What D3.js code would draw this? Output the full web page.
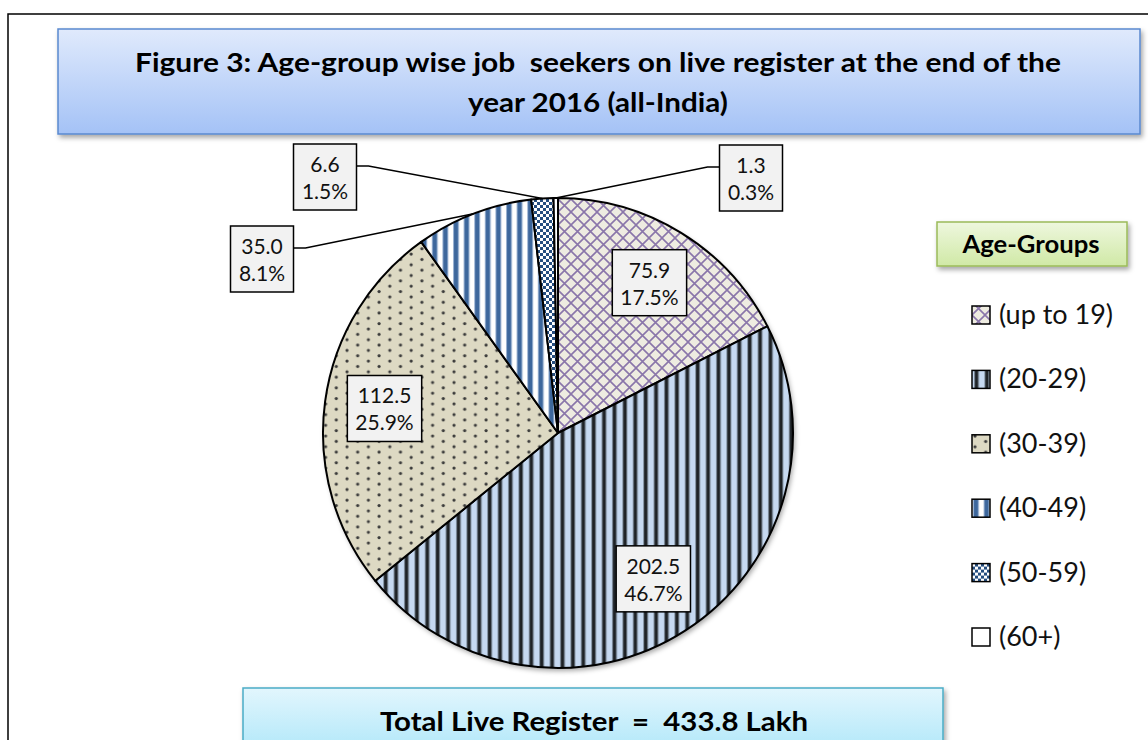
<!DOCTYPE html>
<html>
<head>
<meta charset="utf-8">
<script src="https://cdn.jsdelivr.net/npm/d3@7"></script>
<style>
  body { margin: 0; background: #fff; }
  svg { display: block; font-family: Lato, "Open Sans", sans-serif; }
</style>
</head>
<body>
<svg width="1148" height="740"></svg>
<script>
// Age-group wise job seekers on live register, end of 2016 (lakh)
const groups = ["(up to 19)", "(20-29)", "(30-39)", "(40-49)", "(50-59)", "(60+)"];
const values = [75.9, 202.5, 112.5, 35.0, 6.6, 1.3];
const shares = ["17.5%", "46.7%", "25.9%", "8.1%", "1.5%", "0.3%"];
const total = 433.8;

var svg = d3.select("svg"),
    cx = 558, cy = 433, radius = 235;

var defs = svg.append("defs");

// drop shadow used by boxes and the pie
var shadow = defs.append("filter").attr("id", "shadow")
    .attr("x", "-10%").attr("y", "-10%").attr("width", "130%").attr("height", "130%");
shadow.append("feDropShadow")
    .attr("dx", 2).attr("dy", 3).attr("stdDeviation", 2.5)
    .attr("flood-color", "#000").attr("flood-opacity", 0.35);

function gradient(id, top, bottom) {
    var g = defs.append("linearGradient").attr("id", id)
        .attr("x1", 0).attr("y1", 0).attr("x2", 0).attr("y2", 1);
    g.append("stop").attr("offset", "0%").attr("stop-color", top);
    g.append("stop").attr("offset", "100%").attr("stop-color", bottom);
}
gradient("gTitle", "#e0eafc", "#a4c2f6");
gradient("gLegend", "#eef7de", "#d0e9a6");
gradient("gTotal", "#e2f6fd", "#ace6f9");

// fill patterns, one per age group
function pattern(id, w, h) {
    return defs.append("pattern").attr("id", id)
        .attr("patternUnits", "userSpaceOnUse")
        .attr("width", w).attr("height", h);
}

// (up to 19): purple diamond cross-hatch on beige
var p0 = pattern("pat0", 13, 13);
p0.append("rect").attr("width", 13).attr("height", 13).attr("fill", "#eeece1");
p0.append("path").attr("d", "M0,0L13,13M13,0L0,13")
    .attr("stroke", "#8a76aa").attr("stroke-width", 1.6);

// (20-29): black vertical lines on light blue
var p1 = pattern("pat1", 10.4, 10);
p1.append("rect").attr("width", 10.4).attr("height", 10).attr("fill", "#c6d9f1");
p1.append("rect").attr("x", 2).attr("width", 5).attr("height", 10).attr("fill", "#7d8a99");
p1.append("rect").attr("x", 3).attr("width", 3).attr("height", 10).attr("fill", "#1e2226");

// (30-39): staggered dots on tan
var p2 = pattern("pat2", 21.4, 10.7);
p2.append("rect").attr("width", 21.4).attr("height", 10.7).attr("fill", "#ddd9c3");
[[3, 3], [13.7, 8.35]].forEach(function(d) {
    p2.append("circle").attr("cx", d[0]).attr("cy", d[1]).attr("r", 1.6).attr("fill", "#3a3a3a");
});

// (40-49): dark blue stripes on white
var p3 = pattern("pat3", 10.6, 10);
p3.append("rect").attr("width", 10.6).attr("height", 10).attr("fill", "#ffffff");
p3.append("rect").attr("x", 1).attr("width", 6).attr("height", 10).attr("fill", "#9bb3d3");
p3.append("rect").attr("x", 2).attr("width", 4).attr("height", 10).attr("fill", "#3d679c");

// (50-59): small blue checkerboard
var p4 = pattern("pat4", 6, 6);
p4.append("rect").attr("width", 6).attr("height", 6).attr("fill", "#ffffff");
p4.append("rect").attr("width", 3).attr("height", 3).attr("fill", "#254e80");
p4.append("rect").attr("x", 3).attr("y", 3).attr("width", 3).attr("height", 3).attr("fill", "#254e80");

// (60+): plain white
var p5 = pattern("pat5", 10, 10);
p5.append("rect").attr("width", 10).attr("height", 10).attr("fill", "#ffffff");

var fills = groups.map(function(d, i) { return "url(#pat" + i + ")"; });
var color = d3.scaleOrdinal().domain(groups).range(fills);

// outer frame
svg.append("rect")
    .attr("x", 8).attr("y", 14).attr("width", 1180).attr("height", 780)
    .attr("fill", "none").attr("stroke", "#000").attr("stroke-width", 1.5);

// title box
svg.append("rect")
    .attr("x", 58).attr("y", 29).attr("width", 1082).attr("height", 105)
    .attr("fill", "url(#gTitle)").attr("stroke", "#5a89cf").attr("stroke-width", 1.5)
    .attr("filter", "url(#shadow)");

var title = svg.append("text")
    .attr("text-anchor", "middle")
    .attr("font-size", "26px").attr("font-weight", "bold")
    .style("white-space", "pre")
    .attr("fill", "#000");
title.append("tspan").attr("x", 598).attr("y", 72)
    .attr("textLength", 926).attr("lengthAdjust", "spacingAndGlyphs")
    .text("Figure 3: Age-group wise job  seekers on live register at the end of the");
title.append("tspan").attr("x", 598).attr("y", 112)
    .attr("textLength", 260).attr("lengthAdjust", "spacingAndGlyphs")
    .text("year 2016 (all-India)");

// pie
var pie = d3.pie().sort(null).value(function(d) { return d.value; });
var arc = d3.arc().innerRadius(0).outerRadius(radius);
var labelArc = d3.arc().innerRadius(radius * 0.745).outerRadius(radius * 0.745);

var data = groups.map(function(g, i) {
    return {group: g, value: values[i], share: shares[i]};
});
var arcs = pie(data);

var g = svg.append("g").attr("transform", "translate(" + cx + "," + cy + ")");

g.append("circle").attr("r", radius).attr("fill", "#fff").attr("filter", "url(#shadow)");

g.selectAll(".slice")
    .data(arcs)
    .enter()
    .append("path")
    .attr("class", "slice")
    .attr("d", arc)
    .attr("fill", function(d) { return color(d.data.group); })
    .attr("stroke", "#000")
    .attr("stroke-width", 2)
    .attr("stroke-linejoin", "round");

// data labels: inside for big slices, outside with leader for small ones
var outside = {
    "(40-49)": [-296, -173],
    "(50-59)": [-233, -255],
    "(60+)": [193, -254]
};

arcs.forEach(function(d) {
    var key = d.data.group,
        pos, isOut = outside.hasOwnProperty(key);
    if (isOut) pos = outside[key];
    else pos = labelArc.centroid(d);

    var lg = g.append("g").attr("transform", "translate(" + pos[0] + "," + pos[1] + ")");
    var box = lg.append("rect");
    var t = lg.append("text")
        .attr("text-anchor", "middle")
        .attr("font-size", "21px")
        .attr("fill", "#111");
    t.append("tspan").attr("x", 0).attr("y", -6).text(d.data.value.toFixed(1));
    t.append("tspan").attr("x", 0).attr("y", 21).text(d.data.share);

    var bb = t.node().getBBox();
    var w = Math.max(63, bb.width + 16), h = 66;
    box.attr("x", -w / 2).attr("y", -h / 2 - 1).attr("width", w).attr("height", h)
        .attr("fill", "#f2f2f2").attr("stroke", "#000").attr("stroke-width", 1.5);

    if (isOut) {
        var mid = (d.startAngle + d.endAngle) / 2;
        var ex = Math.sin(mid) * radius, ey = -Math.cos(mid) * radius;
        var side = pos[0] < 0 ? 1 : -1;
        var bx = pos[0] + side * w / 2, by = pos[1] - 12;
        g.append("path")
            .attr("d", "M" + ex + "," + ey + "L" + (bx + side * 12) + "," + by + "L" + bx + "," + by)
            .attr("fill", "none").attr("stroke", "#000").attr("stroke-width", 1.5);
    }
});

// legend
svg.append("rect")
    .attr("x", 937).attr("y", 222).attr("width", 190).attr("height", 44)
    .attr("fill", "url(#gLegend)").attr("stroke", "#9bbb59").attr("stroke-width", 1.5)
    .attr("filter", "url(#shadow)");
svg.append("text")
    .attr("x", 1031).attr("y", 253)
    .attr("text-anchor", "middle")
    .attr("font-size", "25px").attr("font-weight", "bold")
    .attr("textLength", 137).attr("lengthAdjust", "spacingAndGlyphs")
    .text("Age-Groups");

var rowY = d3.scalePoint().domain(groups).range([315, 637]);

var legend = svg.selectAll(".legend")
    .data(groups)
    .enter()
    .append("g")
    .attr("class", "legend")
    .attr("transform", function(d) { return "translate(972," + rowY(d) + ")"; });

legend.append("rect")
    .attr("x", 0).attr("y", -9).attr("width", 18).attr("height", 18)
    .attr("fill", function(d) { return color(d); })
    .attr("stroke", "#000").attr("stroke-width", 1.5);

legend.append("text")
    .attr("x", 27).attr("y", 9)
    .attr("font-size", "27px")
    .attr("fill", "#111")
    .text(function(d) { return d; });

// total box at the bottom
svg.append("rect")
    .attr("x", 243).attr("y", 688).attr("width", 700).attr("height", 70)
    .attr("fill", "url(#gTotal)").attr("stroke", "#4bacc6").attr("stroke-width", 1.5)
    .attr("filter", "url(#shadow)");
svg.append("text")
    .attr("x", 594).attr("y", 731)
    .attr("text-anchor", "middle")
    .attr("font-size", "27px").attr("font-weight", "bold")
    .style("white-space", "pre")
    .attr("textLength", 428).attr("lengthAdjust", "spacingAndGlyphs")
    .text("Total Live Register  =  " + total.toFixed(1) + " Lakh");
</script>
</body>
</html>
